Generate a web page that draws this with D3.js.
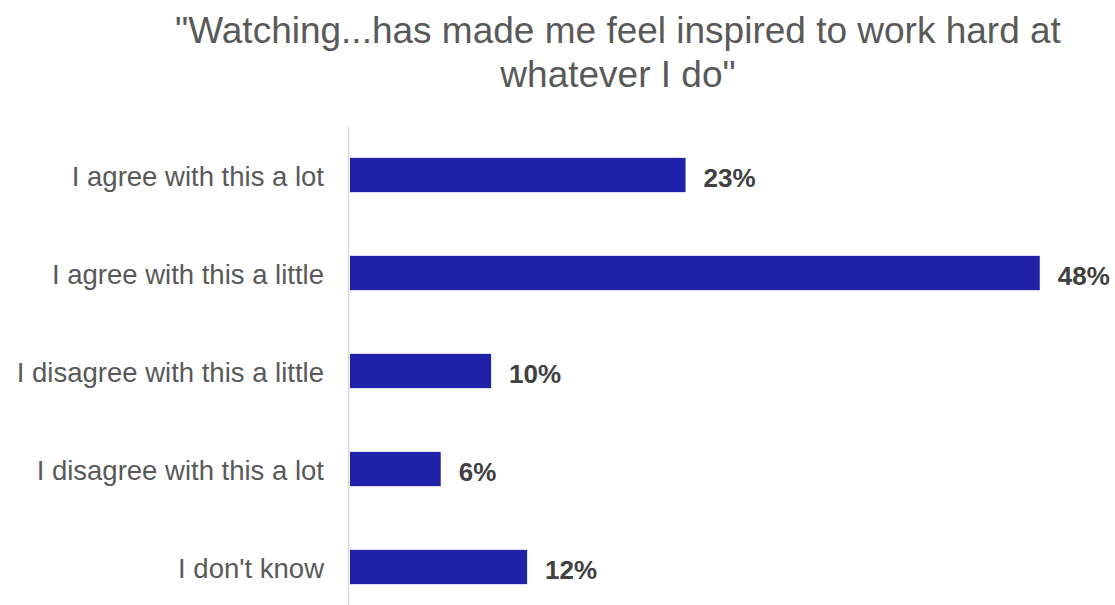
<!DOCTYPE html>
<html>
<head>
<meta charset="utf-8">
<script src="https://cdn.jsdelivr.net/npm/d3@7"></script>
<style>
  body { margin: 0; background: #fff; }
  svg { display: block; font-family: "Liberation Sans", Arial, sans-serif; }
</style>
</head>
<body>
<div id="chart"></div>
<script>
const width = 1115;
const height = 605;

// data
const titleLines = ['"Watching...has made me feel inspired to work hard at', 'whatever I do"'];
const categories = [
  'I agree with this a lot',
  'I agree with this a little',
  'I disagree with this a little',
  'I disagree with this a lot',
  "I don't know"
];
const values = [23.3, 47.9, 9.8, 6.3, 12.3];

const barColor = '#1f22a8';
const labelGrey = '#595959';
const valueGrey = '#404040';
const axisGrey = '#d9d9d9';

const svg = d3.select('#chart')
  .append('svg')
  .attr('width', width)
  .attr('height', height);

// title
svg.append('g')
  .selectAll('text')
  .data(titleLines)
  .enter()
  .append('text')
  .attr('x', 618)
  .attr('y', (d, i) => 43 + i * 44)
  .attr('text-anchor', 'middle')
  .attr('fill', labelGrey)
  .style('font-size', '37px')
  .text(d => d);

const x = d3.scaleLinear()
  .domain([0, 50])
  .range([350, 1070]);

const y = d3.scaleBand()
  .domain(categories)
  .range([126, 616])
  .paddingInner(0.65)
  .paddingOuter(0.325);

// vertical category axis line
svg.append('line')
  .attr('x1', 348.5)
  .attr('x2', 348.5)
  .attr('y1', 127)
  .attr('y2', height)
  .attr('stroke', axisGrey)
  .attr('stroke-width', 1.5);

const rows = categories.map((c, i) => ({ category: c, value: values[i] }));

svg.append('g')
  .selectAll('rect')
  .data(rows)
  .enter()
  .append('rect')
  .attr('x', x(0))
  .attr('y', d => y(d.category))
  .attr('width', d => x(d.value) - x(0))
  .attr('height', y.bandwidth())
  .attr('fill', barColor);

// category labels
svg.append('g')
  .selectAll('text')
  .data(rows)
  .enter()
  .append('text')
  .attr('x', 324)
  .attr('y', d => y(d.category) + y.bandwidth() / 2 + 10.5)
  .attr('text-anchor', 'end')
  .attr('fill', labelGrey)
  .style('font-size', '27.5px')
  .text(d => d.category);

// value labels
svg.append('g')
  .selectAll('text')
  .data(rows)
  .enter()
  .append('text')
  .attr('x', d => x(d.value) + 18)
  .attr('y', d => y(d.category) + y.bandwidth() / 2 + 12)
  .attr('fill', valueGrey)
  .style('font-size', '26px')
  .style('font-weight', 'bold')
  .text(d => Math.round(d.value) + '%');
</script>
</body>
</html>
